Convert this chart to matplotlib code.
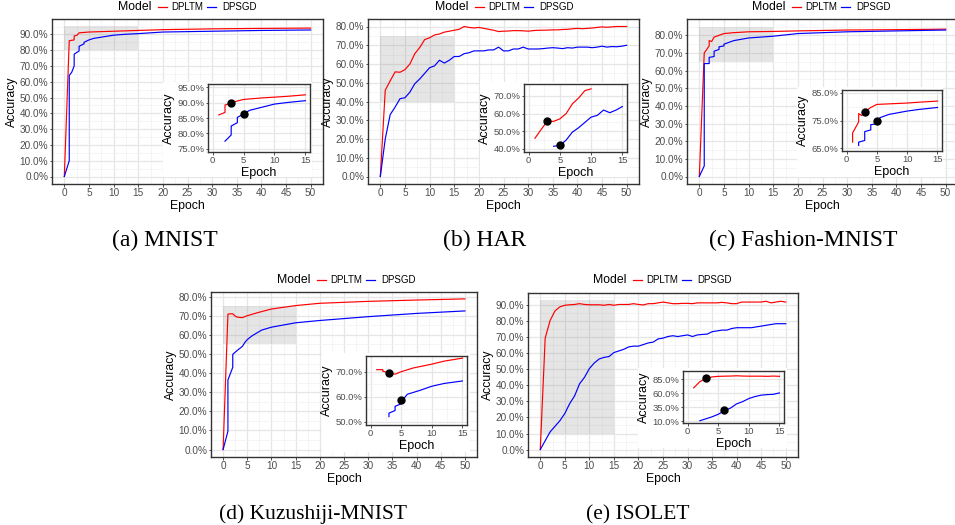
import numpy as np
import matplotlib
matplotlib.use('Agg')
import matplotlib.pyplot as plt
from matplotlib.lines import Line2D
from matplotlib.patches import Rectangle
from matplotlib.ticker import FixedLocator, FuncFormatter

plt.rcParams['font.family'] = ['Liberation Sans', 'DejaVu Sans']

W, H = 955, 525
epochs = np.arange(51)

# ---- (a) MNIST ----
mnist_red_x = [0, 1, 2, 2, 2.6, 3, 5, 10, 15, 20, 30, 40, 50]
mnist_red_y = [0, 86, 86.5, 89, 89.5, 91, 91.5, 92, 92.5, 93, 93.5, 93.8, 94]
mnist_blue_x = [0, 1, 1, 1.5, 2, 2, 3, 3, 4, 4, 5, 6, 7, 8, 10, 12, 15, 20, 30, 40, 50]
mnist_blue_y = [0, 10, 64, 66, 70, 77.5, 79.5, 82.5, 84, 85, 86.5, 87.5, 88, 88.5,
                89.5, 90, 90.5, 91.5, 92, 92.5, 92.8]
mnist_in_red_x = [1, 2, 2, 2.5, 3, 5, 8, 12, 15]
mnist_in_red_y = [86, 86.8, 89.2, 89.5, 90, 91, 91.5, 92, 92.5]
mnist_in_blue_x = [2, 3, 3, 4, 4, 5, 6, 8, 10, 12, 15]
mnist_in_blue_y = [77.5, 79.5, 82.4, 83.5, 85.2, 86.3, 87.5, 88.5, 89.5, 90, 90.6]
mnist_dots = [(3, 89.9), (5, 86.3)]

# ---- (b) HAR ----
har_red = [0, 46, 51, 55.8, 55.6, 57, 60, 65.5, 68.8, 73, 74,
           75.5, 76, 77, 77.5, 78, 78.5, 80, 79.5, 79.2, 79.5,
           79, 78.5, 78, 77.3, 77.5, 77.6, 77.8, 77.8, 77.7, 77.5,
           77.8, 78, 78, 78.1, 78.2, 78.2, 78.4, 78.5, 78.8, 79,
           78.8, 79, 79.2, 79.5, 79.8, 79.6, 79.8, 80, 80, 80]
har_blue = [0, 20, 33, 37, 41.5, 42, 45, 49.5, 52, 55, 58,
            59, 62, 60.5, 62, 64, 64, 65.5, 66, 67, 67,
            67, 67.5, 67.5, 69, 67, 67, 68, 68, 69, 68,
            68, 68, 68.2, 68.5, 68.7, 68.5, 68.2, 68.7, 68.5, 69,
            69, 69, 68.7, 69, 69.5, 69, 69.3, 69.2, 69.5, 70]
har_dots = [(3, 55.9), (5, 42)]

# ---- (c) Fashion-MNIST ----
fash_red_x = [0, 1, 1.5, 2, 2, 2.5, 3, 4, 5, 7, 10, 15, 20, 30, 40, 50]
fash_red_y = [0, 70, 72, 74, 77, 76.5, 79, 80, 81, 81.5, 82, 82.2, 82.5, 83, 83.2, 83.5]
fash_blue_x = [0, 1, 1, 2, 2, 3, 3, 4, 4, 5, 5, 7, 10, 15, 20, 30, 40, 50]
fash_blue_y = [0, 6, 64, 64, 67.5, 68, 71, 72, 73.5, 74, 75, 77, 78.5, 79.5, 81, 82, 82.5, 83]
fash_in_red_x = [1, 1, 2, 2, 2.5, 3, 4, 5, 8, 10, 12, 15]
fash_in_red_y = [67.2, 70.5, 74.5, 77.5, 76.8, 78.2, 79.7, 80.8, 81.1, 81.3, 81.6, 82]
fash_in_blue_x = [2, 2, 3, 3, 4, 4, 5, 5.5, 7, 10, 12, 15]
fash_in_blue_y = [66, 67.2, 67.8, 71, 71.6, 73.5, 73.8, 76, 77.2, 78.4, 79, 79.7]
fash_dots = [(3, 78.1), (5, 75)]

# ---- (d) Kuzushiji-MNIST ----
kmn_red_x = [0, 1, 1.5, 2, 2.5, 3, 4, 5, 7, 10, 15, 20, 25, 30, 40, 50]
kmn_red_y = [0, 70.8, 71, 71, 69.8, 69.2, 69, 70, 71.5, 73.5, 75.3, 76.5, 77, 77.5, 78.2, 78.8]
kmn_blue_x = [0, 1, 1, 2, 2, 3, 4, 4.5, 5, 6, 7, 8, 10, 15, 20, 25, 30, 40, 50]
kmn_blue_y = [0, 9.6, 36.4, 43, 49.8, 52, 54, 56, 57.5, 59.5, 61, 62.5, 64, 66.3, 67.5,
              68.5, 69.5, 71.2, 72.5]
kmn_in_red_x = [1, 2, 2, 3, 4, 5, 7, 10, 12, 15]
kmn_in_red_y = [70.8, 70.8, 70.2, 69.5, 69, 70, 71.5, 73, 74.2, 75.4]
kmn_in_blue_x = [3, 3, 4, 4, 5, 5.5, 6, 8, 10, 12, 15]
kmn_in_blue_y = [52.1, 53.5, 54.5, 56.2, 57.2, 59.5, 61, 62.5, 64.2, 65.3, 66.3]
kmn_dots = [(3, 69.6), (5, 58.8)]

# ---- (e) ISOLET ----
iso_red = [0, 69.5, 80.5, 86.5, 89, 90, 90.3, 90.5, 91, 90.5, 90.3,
           90.3, 90.3, 90, 90.5, 90, 90.5, 90.5, 90.5, 91, 90.5,
           90.2, 91, 91, 91.5, 92, 91.5, 91, 91, 91.2, 91.2,
           91, 91.5, 91.5, 91.5, 91.5, 91.5, 91.8, 91.5, 91, 91,
           92, 92, 92, 92, 92, 92.5, 91.5, 92, 92.5, 92]
iso_blue = [0, 5.5, 11, 14.5, 18, 22.5, 28.7, 33.5, 41, 45, 50.5,
            54, 56.5, 57.5, 58, 60.5, 61.5, 62.5, 64, 64.5, 64.5,
            65.5, 66.5, 67, 69, 69.5, 70.5, 71, 70.5, 71, 71.5,
            70.5, 71.5, 71.8, 72, 73.5, 74, 74.5, 74.5, 75.5, 76,
            76, 76, 76, 76.5, 77, 77.5, 78, 78.5, 78.5, 78.5]
iso_dots = [(3, 87.5), (6, 29.5)]

RED, BLUE = '#FF0000', '#0000FF'


def px_rect(x0, y0, x1, y1):
    return [x0 / W, 1 - y1 / H, (x1 - x0) / W, (y1 - y0) / H]


def style(ax, major_x, minor_x, yticks, yminor, lab_fs, tick_fs):
    ax.set_facecolor('white')
    ax.xaxis.set_major_locator(FixedLocator(major_x))
    ax.xaxis.set_minor_locator(FixedLocator(minor_x))
    ax.yaxis.set_major_locator(FixedLocator(yticks))
    ax.yaxis.set_minor_locator(FixedLocator(yminor))
    ax.yaxis.set_major_formatter(FuncFormatter(lambda v, p: f'{v:.1f}%'))
    ax.grid(which='major', color='#E6E6E6', lw=0.9, zorder=0)
    ax.grid(which='minor', color='#F2F2F2', lw=0.5, zorder=0)
    ax.set_axisbelow(True)
    for s in ax.spines.values():
        s.set_color('#333333')
        s.set_linewidth(1.0)
    ax.tick_params(which='major', length=1.8, width=0.6, color='#333333',
                   labelcolor='#4D4D4D', labelsize=tick_fs, pad=0.8)
    ax.tick_params(which='minor', length=0)
    ax.set_xlabel('Epoch', fontsize=lab_fs, labelpad=1.5)
    ax.set_ylabel('Accuracy', fontsize=lab_fs, labelpad=1.5)


def legend(fig, x0, yc):
    fs_t, fs_l = 8.8, 7.0
    fig.text(x0 / W, 1 - yc / H, 'Model', fontsize=fs_t, ha='left', va='center')
    for dx0, col, lab, dxl in [(40, RED, 'DPLTM', 53), (89, BLUE, 'DPSGD', 104)]:
        fig.add_artist(Line2D([(x0 + dx0) / W, (x0 + dx0 + 9) / W],
                              [1 - yc / H, 1 - yc / H], color=col, lw=0.9))
        fig.text((x0 + dxl) / W, 1 - yc / H, lab, fontsize=fs_l, ha='left', va='center')


fig = plt.figure(figsize=(9.55, 5.25), dpi=100)

panels = [
    dict(main=(52, 19, 323, 184), ylim=(-4.75, 99.75), yt=np.arange(0, 91, 10),
         red=(mnist_red_x, mnist_red_y), blue=(mnist_blue_x, mnist_blue_y),
         rect=(80, 95),
         bg=(163, 82, 312, 177), inset=(208, 84, 310, 152), iylim=(74, 96),
         iyt=[75, 80, 85, 90, 95],
         ired=(mnist_in_red_x, mnist_in_red_y), iblue=(mnist_in_blue_x, mnist_in_blue_y),
         dots=mnist_dots, leg=(118, 7), cap='(a) MNIST', capxy=(165, 246), capfs=17),
    dict(main=(368, 19, 639, 184), ylim=(-4.0, 84.0), yt=np.arange(0, 81, 10),
         red=(epochs, har_red), blue=(epochs, har_blue), rect=(40, 75),
         bg=(480, 82, 628, 177), inset=(524, 84, 627, 152), iylim=(38.25, 76.75),
         iyt=[40, 50, 60, 70],
         ired=(epochs[1:11], har_red[1:11]), iblue=(epochs[4:16], har_blue[4:16]),
         dots=har_dots, leg=(435, 7), cap='(b) HAR', capxy=(485, 246), capfs=17),
    dict(main=(687, 19, 958, 184), ylim=(-4.25, 89.25), yt=np.arange(0, 81, 10),
         red=(fash_red_x, fash_red_y), blue=(fash_blue_x, fash_blue_y), rect=(65, 85),
         bg=(797, 87, 943, 177), inset=(842, 90, 942, 151), iylim=(64, 86),
         iyt=[65, 75, 85],
         ired=(fash_in_red_x, fash_in_red_y), iblue=(fash_in_blue_x, fash_in_blue_y),
         dots=fash_dots, leg=(752, 7), cap='(c) Fashion-MNIST', capxy=(803, 246), capfs=17),
    dict(main=(211, 292, 477, 457), ylim=(-3.9, 82.4), yt=np.arange(0, 81, 10),
         red=(kmn_red_x, kmn_red_y), blue=(kmn_blue_x, kmn_blue_y), rect=(55, 75),
         bg=(322, 353, 470, 452), inset=(366, 356, 467, 425), iylim=(48.75, 76.25),
         iyt=[50, 60, 70],
         ired=(kmn_in_red_x, kmn_in_red_y), iblue=(kmn_in_blue_x, kmn_in_blue_y),
         dots=kmn_dots, leg=(277, 280), cap='(d) Kuzushiji-MNIST', capxy=(313, 519),
         capfs=15.5),
    dict(main=(528, 293, 798, 457), ylim=(-4.65, 97.65), yt=np.arange(0, 91, 10),
         red=(epochs, iso_red), blue=(epochs, iso_blue), rect=(10, 93),
         bg=(638, 368, 787, 448), inset=(683, 371, 784, 423), iylim=(7, 99.5),
         iyt=[10, 35, 60, 85],
         ired=(epochs[1:16], iso_red[1:16]), iblue=(epochs[2:16], iso_blue[2:16]),
         dots=iso_dots, leg=(593, 280), cap='(e) ISOLET', capxy=(638, 519), capfs=15.5),
]

for p in panels:
    ax = fig.add_axes(px_rect(*p['main']), zorder=1)
    style(ax, np.arange(0, 51, 5), np.arange(2.5, 51, 5), p['yt'],
          np.arange(5, p['ylim'][1], 10), 8.8, 7.2)
    ax.set_xlim(-2.5, 52.5)
    ax.set_ylim(*p['ylim'])
    lo, hi = p['rect']
    ax.add_patch(Rectangle((0, lo), 15, hi - lo, facecolor='grey', alpha=0.2,
                           edgecolor='none', zorder=1))
    ax.plot(*p['red'], color=RED, lw=0.85, zorder=3)
    ax.plot(*p['blue'], color=BLUE, lw=0.85, zorder=3)

    bg = fig.add_axes(px_rect(*p['bg']), zorder=2)
    bg.set_facecolor('white')
    bg.set_xticks([])
    bg.set_yticks([])
    for s in bg.spines.values():
        s.set_visible(False)

    ia = fig.add_axes(px_rect(*p['inset']), zorder=3)
    iyt = p['iyt']
    step = iyt[1] - iyt[0]
    style(ia, [0, 5, 10, 15], [2.5, 7.5, 12.5], iyt,
          [v + step / 2 for v in iyt[:-1]], 9.0, 6.8)
    ia.set_xlim(-0.75, 15.75)
    ia.set_ylim(*p['iylim'])
    ia.plot(*p['ired'], color=RED, lw=0.85, zorder=3)
    ia.plot(*p['iblue'], color=BLUE, lw=0.85, zorder=3)
    for dx, dy in p['dots']:
        ia.plot(dx, dy, 'o', color='black', ms=5, zorder=4)

    legend(fig, *p['leg'])
    cx, cy = p['capxy']
    fig.text(cx / W, 1 - cy / H, p['cap'], fontsize=p['capfs'], ha='center',
             va='baseline', family='Liberation Serif')

fig.savefig('out.png', dpi=100)
